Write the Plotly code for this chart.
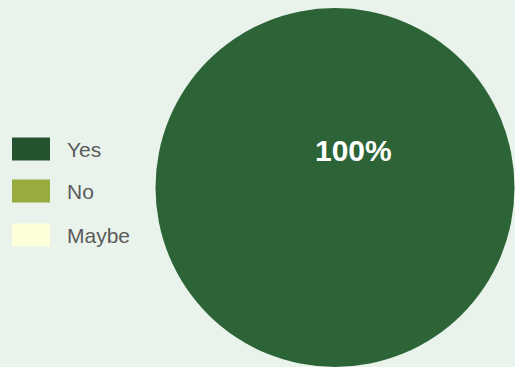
import plotly.graph_objects as go

labels = ["Yes", "No", "Maybe"]
values = [100, 0, 0]
slice_colors = ["#2c6437", "#97ab3f", "#fdffd9"]
legend_colors = ["#24532f", "#97ab3f", "#fdffd9"]

W, H = 515, 367
bg = "#e9f3ec"

fig = go.Figure()
fig.add_trace(go.Pie(
    labels=labels, values=values,
    marker=dict(colors=slice_colors, line=dict(width=0)),
    textinfo="none", hoverinfo="none", sort=False,
    showlegend=False,
    domain=dict(x=[155 / W, 1], y=[0.0, 1 - 8 / H]),
))

total = sum(values)
shapes = []
annotations = []
row_y = [149, 191, 235]
for lab, col, yc in zip(labels, legend_colors, row_y):
    shapes.append(dict(type="rect", xref="paper", yref="paper",
                       x0=12 / W, x1=50 / W,
                       y0=1 - (yc + 11.5) / H, y1=1 - (yc - 11.5) / H,
                       fillcolor=col, line=dict(width=0)))
    annotations.append(dict(xref="paper", yref="paper", x=65 / W, y=1 - yc / H,
                            text=lab, showarrow=False, xanchor="left", yanchor="middle",
                            font=dict(family="Arial, Liberation Sans", size=21, color="#5b5b5b")))

# percent label for the dominant slice
share = round(values[0] / total * 100)
annotations.append(dict(xref="paper", yref="paper", x=353 / W, y=1 - 150 / H,
                        text=f"<b>{share}%</b>", showarrow=False,
                        xanchor="center", yanchor="middle",
                        font=dict(family="Arial, Liberation Sans", size=30, color="#ffffff")))

fig.update_layout(width=W, height=H, margin=dict(l=0, r=0, t=0, b=0),
                  paper_bgcolor=bg, plot_bgcolor=bg,
                  shapes=shapes, annotations=annotations)
fig.write_html("out.html")
